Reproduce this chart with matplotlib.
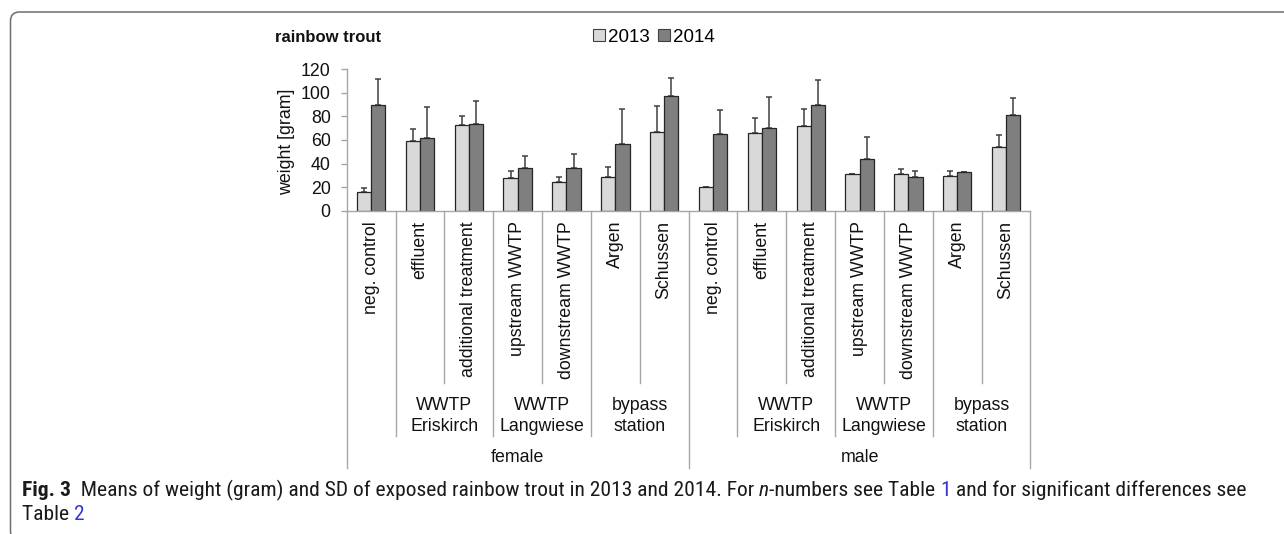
import numpy as np
import matplotlib
matplotlib.use("Agg")
import matplotlib.pyplot as plt
import matplotlib.transforms as mtransforms
from matplotlib.patches import FancyBboxPatch, Patch
from matplotlib import font_manager

# data
sites = ["neg. control", "effluent", "additional treatment", "upstream WWTP",
         "downstream WWTP", "Argen", "Schussen"]
groups = ["", "WWTP\nEriskirch", "WWTP\nLangwiese", "bypass\nstation"]
group_sizes = [1, 2, 2, 2]
sexes = ["female", "male"]
years = ["2013", "2014"]

mean_2013 = [16, 59, 72.5, 27.5, 24, 29, 66.5, 20, 66, 72, 31, 31.5, 29.5, 54]
sd_2013 = [3, 10.3, 8.2, 6.5, 4.6, 8.1, 22.7, 0, 13, 14, 0.3, 3.6, 4.5, 10.5]
mean_2014 = [89.5, 62, 74, 36, 36.5, 57, 97, 65.5, 70.5, 89.5, 43.5, 29, 33, 81]
sd_2014 = [22, 26.3, 19.1, 10.1, 11.3, 29.3, 15.7, 19.7, 26.3, 21.7, 19.3, 5, 0, 14.7]

W, H = 1284, 534
plt.rcParams["font.family"] = ["Liberation Sans", "DejaVu Sans"]
fig = plt.figure(figsize=(W / 100, H / 100), dpi=100)

def fx(px):
    return px / W

def fy(py):
    return 1 - py / H

ax = fig.add_axes([fx(346.7), fy(210.7), fx(1030.5) - fx(346.7), fy(69.3) - fy(210.7)])

n = len(sites) * len(sexes)
x = np.arange(n)
bw = 0.29
c13, c14 = "#d9d9d9", "#7f7f7f"
edge = "#262626"
ax.bar(x - bw / 2, mean_2013, bw, color=c13, edgecolor=edge, linewidth=0.9, zorder=2)
ax.bar(x + bw / 2, mean_2014, bw, color=c14, edgecolor=edge, linewidth=0.9, zorder=2)
ax.errorbar(x - bw / 2, mean_2013, yerr=[np.zeros(n), sd_2013], fmt="none",
            ecolor="#404040", elinewidth=1.1, capsize=2.5, capthick=1.1, zorder=1)
ax.errorbar(x + bw / 2, mean_2014, yerr=[np.zeros(n), sd_2014], fmt="none",
            ecolor="#404040", elinewidth=1.1, capsize=2.5, capthick=1.1, zorder=1)

ax.set_xlim(-0.5, n - 0.5)
ax.set_ylim(0, 120)
ax.set_yticks(np.arange(0, 121, 20))
ax.set_xticks([])
for s in ["top", "right"]:
    ax.spines[s].set_visible(False)
for s in ["left", "bottom"]:
    ax.spines[s].set_color("#a6a6a6")
    ax.spines[s].set_linewidth(1.0)
ax.tick_params(axis="y", length=4.5, width=1.0, color="#a6a6a6", pad=7,
               labelsize=12.8, labelcolor="#111111")

# hierarchical category axis
trans = mtransforms.blended_transform_factory(ax.transData, fig.transFigure)
line_kw = dict(color="#a6a6a6", lw=1.0, transform=trans, clip_on=False)
y_axis = fy(210.7)
y_site, y_group, y_sex = fy(383), fy(436), fy(468)

group_starts = np.cumsum([0] + group_sizes[:-1])
for si, sex in enumerate(sexes):
    off = si * len(sites)
    ax.plot([off - 0.5, off - 0.5], [y_axis, y_sex], **line_kw)
    for k, site in enumerate(sites):
        ax.text(off + k, fy(221), site, rotation=90, ha="center", va="top",
                fontsize=12.8, color="#111111", transform=trans)
        if k > 0:
            yb = y_group if k in group_starts else y_site
            ax.plot([off + k - 0.5, off + k - 0.5], [y_axis, yb], **line_kw)
    for g, start, size in zip(groups, group_starts, group_sizes):
        if g:
            ax.text(off + start + (size - 1) / 2, fy(416), g, ha="center", va="center",
                    fontsize=12.8, color="#111111", linespacing=1.3, transform=trans)
    ax.text(off + (len(sites) - 1) / 2, fy(458), sex, ha="center", va="center",
            fontsize=12.8, color="#111111", transform=trans)
ax.plot([n - 0.5, n - 0.5], [y_axis, y_sex], **line_kw)

fig.text(fx(287), fy(141.5), "weight [gram]", rotation=90, ha="center", va="center",
         fontsize=12.8, color="#111111")
fig.text(fx(275), fy(37), "rainbow trout", ha="left", va="center",
         fontsize=12, fontweight="bold", color="#111111")
handles = [Patch(facecolor=c13, edgecolor="#404040", linewidth=0.8),
           Patch(facecolor=c14, edgecolor="#404040", linewidth=0.8)]
fig.legend(handles, years, loc="center", bbox_to_anchor=(fx(654), fy(37)), ncol=2,
           frameon=False, fontsize=13.5, handlelength=0.65, handleheight=0.65,
           handletextpad=0.15, columnspacing=0.45, borderpad=0, borderaxespad=0)

# caption frame (top and left edge with round corners)
frame = FancyBboxPatch((10.5, -6), 1300, H - 12 + 6, boxstyle="round,pad=0,rounding_size=9",
                       transform=mtransforms.IdentityTransform(), facecolor="none",
                       edgecolor="#6e6e6e", linewidth=1.1)
fig.patches.append(frame)

# caption, in the narrowest installed family
names = {f.name for f in font_manager.fontManager.ttflist}
cap_family = "Open Sans"
for cand in ["Liberation Sans Narrow", "Roboto Condensed", "Open Sans Condensed",
             "DejaVu Sans Condensed", "Roboto"]:
    if cand in names:
        cap_family = cand
        break
blue = "#3434d6"
ink = "#1a1a1a"
line1 = [("Fig. 3", "bold", "normal", ink),
         ("  Means of weight (gram) and SD of exposed rainbow trout in 2013 and 2014. For ",
          "normal", "normal", ink),
         ("n", "normal", "italic", ink),
         ("-numbers see Table ", "normal", "normal", ink),
         ("1", "normal", "normal", blue),
         (" and for significant differences see", "normal", "normal", ink)]
line2 = [("Table ", "normal", "normal", ink), ("2", "normal", "normal", blue)]

renderer = fig.canvas.get_renderer()

def draw_runs(runs, x0, y, size, draw=True):
    xpos = x0
    for txt, weight, style, col in runs:
        t = fig.text(fx(xpos), fy(y), txt, ha="left", va="center", fontsize=size,
                     fontweight=weight, fontstyle=style, color=col, family=cap_family)
        xpos += t.get_window_extent(renderer).width
        if not draw:
            t.remove()
    return xpos - x0

trial = 12
w = draw_runs(line1, 22, 490, trial, draw=False)
size = trial * (1246 - 22) / w
draw_runs(line1, 22, 490, size)
draw_runs(line2, 22, 514, size)

fig.savefig("out.png", dpi=100)
